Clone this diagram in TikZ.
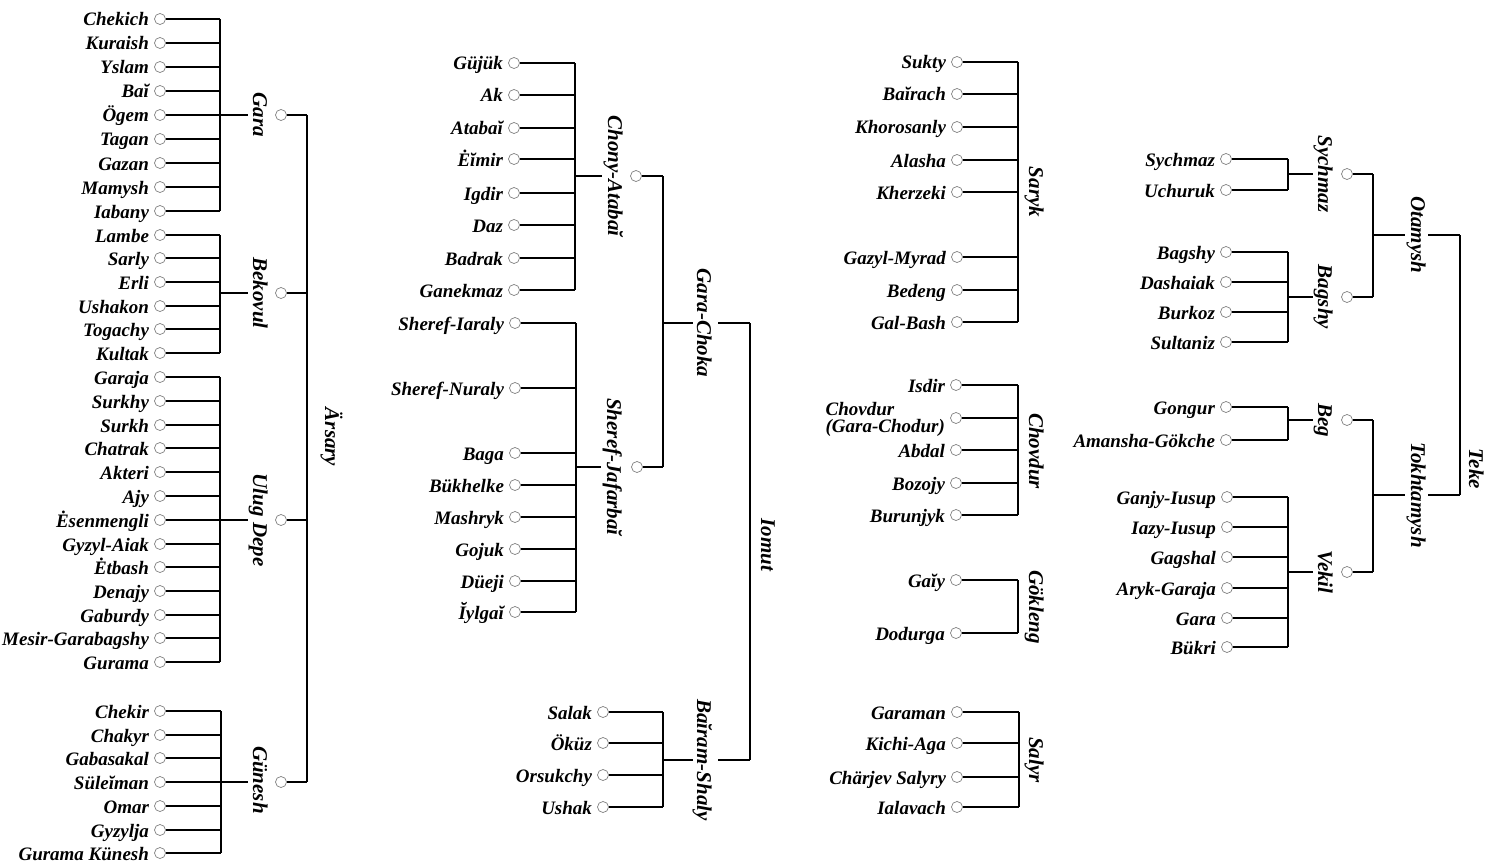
\documentclass[tikz,border=0pt]{standalone}
\usepackage{fontspec}
\setmainfont{Liberation Serif}
\newcommand\leaffont{\fontsize{19}{17}\selectfont\bfseries\itshape}
\newcommand\grpfont{\fontsize{21}{22}\selectfont\bfseries\itshape}
% one row of leaves: prefix, circle x, bar coordinate, list name/y
\newcommand\leafrow[4]{%
  \foreach \nm/\yy [count=\k] in {#4}{%
    \node[dot] (#1\k) at (#2,\yy) {};
    \node[leafname] (#1n\k) at ([xshift=-5pt,yshift=-7pt]#1\k.west) {\nm};
    \draw[link] (#1\k.east) -- (#1\k -| #3);
  }}
\begin{document}
\begin{tikzpicture}[x=1pt,y=-1pt,
  link/.style={line width=1.5pt},
  dot/.style={circle, draw=black!50, line width=0.7pt, inner sep=0pt, minimum size=11pt, fill=white},
  leafname/.style={anchor=base east, inner sep=0pt, font=\leaffont},
  grouplabel/.style={rotate=-90, anchor=base, inner sep=0pt, font=\grpfont}]
\fill[white] (0,0) rectangle (1496,864);
\useasboundingbox (0,0) rectangle (1496,864);

% ---------------- Ärsary ----------------
\coordinate (garaBar) at (220,115);
\coordinate (bekBar) at (220,293);
\coordinate (ulugBar) at (220,520);
\coordinate (gunBar) at (221,782);
\coordinate (arsBar) at (307,449);

\leafrow{gara}{160}{garaBar}{Chekich/19, Kuraish/43, Yslam/67, Baĭ/91, Ögem/115, Tagan/139, Gazan/163, Mamysh/187, Iabany/211}
\draw[link] (gara1 -| garaBar) -- (gara9 -| garaBar);
\node[grouplabel] (garaL) at (253,115) {Gara};
\node[dot] (garaC) at (281,115) {};
\draw[link] (garaBar) -- ([xshift=-5pt]garaL.base);
\draw[link] (garaC.east) -- (garaC -| arsBar);

\leafrow{bek}{160}{bekBar}{Lambe/235, Sarly/258, Erli/282, Ushakon/306, Togachy/329, Kultak/353}
\draw[link] (bek1 -| bekBar) -- (bek6 -| bekBar);
\node[grouplabel] (bekL) at (253,293) {Bekovul};
\node[dot] (bekC) at (281,293) {};
\draw[link] (bekBar) -- ([xshift=-5pt]bekL.base);
\draw[link] (bekC.east) -- (bekC -| arsBar);

\leafrow{ulug}{160}{ulugBar}{Garaja/377, Surkhy/401, Surkh/425, Chatrak/448, Akteri/472, Ajy/496, Ėsenmengli/520, Gyzyl-Aiak/544, Ėtbash/567, Denajy/591, Gaburdy/615, Mesir-Garabagshy/638, Gurama/662}
\draw[link] (ulug1 -| ulugBar) -- (ulug13 -| ulugBar);
\node[grouplabel] (ulugL) at (253,520) {Ulug Depe};
\node[dot] (ulugC) at (281,520) {};
\draw[link] (ulugBar) -- ([xshift=-5pt]ulugL.base);
\draw[link] (ulugC.east) -- (ulugC -| arsBar);

\leafrow{gun}{160}{gunBar}{Chekir/711, Chakyr/735, Gabasakal/758, Süleĭman/782, Omar/806, Gyzylja/830, Gurama Künesh/853}
\draw[link] (gun1 -| gunBar) -- (gun7 -| gunBar);
\node[grouplabel] (gunL) at (253,780) {Günesh};
\node[dot] (gunC) at (281,782) {};
\draw[link] (gunBar) -- ([xshift=-5pt]gunL.base |- gunBar);
\draw[link] (gunC.east) -- (gunC -| arsBar);

\draw[link] (garaC -| arsBar) -- (gunC -| arsBar);
\node[grouplabel] (arsL) at (325,437) {Ärsary};

% ---------------- Iomut ----------------
\coordinate (chonyBar) at (575,176);
\coordinate (sherBar) at (576,467);
\coordinate (gcBar) at (663,323);
\coordinate (bsBar) at (663,760);
\coordinate (iomBar) at (750,540);

\leafrow{chony}{514}{chonyBar}{Güjük/63, Ak/95, Atabaĭ/128, Ėĭmir/159, Igdir/193, Daz/225, Badrak/258, Ganekmaz/290}
\draw[link] (chony1 -| chonyBar) -- (chony8 -| chonyBar);
\node[grouplabel] (chonyL) at (608,176) {Chony-Atabaĭ};
\node[dot] (chonyC) at (636,176) {};
\draw[link] (chonyBar) -- ([xshift=-6pt]chonyL.base);
\draw[link] (chonyC.east) -- (chonyC -| gcBar);

\leafrow{sher}{515}{sherBar}{Sheref-Iaraly/323, Sheref-Nuraly/388, Baga/453, Bükhelke/485, Mashryk/517, Gojuk/549, Düeji/581, Ĭylgaĭ/612}
\draw[link] (sher1 -| sherBar) -- (sher8 -| sherBar);
\node[grouplabel] (sherL) at (607,467) {Sheref-Jafarbaĭ};
\node[dot] (sherC) at (637,467) {};
\draw[link] (sherBar) -- ([xshift=-6pt]sherL.base);
\draw[link] (sherC.east) -- (sherC -| gcBar);

\draw[link] (chonyC -| gcBar) -- (sherC -| gcBar);
\node[grouplabel] (gcL) at (697,323) {Gara-Choka};
\draw[link] (gcBar) -- ([xshift=-4pt]gcL.base);
\draw[link] ([xshift=21pt]gcL.base) -- (gcL -| iomBar);

\leafrow{bs}{603}{bsBar}{Salak/712, Öküz/743, Orsukchy/775, Ushak/807}
\draw[link] (bs1 -| bsBar) -- (bs4 -| bsBar);
\node[grouplabel] (bsL) at (697,760) {Baĭram-Shaly};
\draw[link] (bsBar) -- ([xshift=-4pt]bsL.base);
\draw[link] ([xshift=21pt]bsL.base) -- (bsL -| iomBar);

\draw[link] (gcL -| iomBar) -- (bsL -| iomBar);
\node[grouplabel] (iomL) at (761,545) {Iomut};

% ---------------- Saryk, Chovdur, Gökleng, Salyr ----------------
\coordinate (sarBar) at (1018,190);
\coordinate (choBar) at (1018,450);
\coordinate (gokBar) at (1018,607);
\coordinate (salBar) at (1019,760);

\leafrow{sar}{957}{sarBar}{Sukty/62, Baĭrach/94, Khorosanly/127, Alasha/160, Kherzeki/192, Gazyl-Myrad/257, Bedeng/290, Gal-Bash/322}
\draw[link] (sar1 -| sarBar) -- (sar8 -| sarBar);
\node[grouplabel] (sarL) at (1029,192) {Saryk};

\leafrow{cho}{956}{choBar}{Isdir/385}
\node[dot] (chox) at (956,418) {};
\node[anchor=east, align=left, inner sep=0pt, font=\leaffont] (choxn) at ([xshift=-5pt,yshift=-1pt]chox.west) {Chovdur\\(Gara-Chodur)};
\draw[link] (chox.east) -- (chox -| choBar);
\leafrow{chob}{956}{choBar}{Abdal/450, Bozojy/483, Burunjyk/515}
\draw[link] (cho1 -| choBar) -- (chob3 -| choBar);
\node[grouplabel] (choL) at (1029,451) {Chovdur};

\leafrow{gok}{956}{gokBar}{Gaĭy/580, Dodurga/633}
\draw[link] (gok1 -| gokBar) -- (gok2 -| gokBar);
\node[grouplabel] (gokL) at (1029,607) {Gökleng};

\leafrow{sal}{957}{salBar}{Garaman/712, Kichi-Aga/743, Chärjev Salyry/777, Ialavach/807}
\draw[link] (sal1 -| salBar) -- (sal4 -| salBar);
\node[grouplabel] (salL) at (1029,760) {Salyr};

% ---------------- Teke ----------------
\coordinate (sychBar) at (1288,174);
\coordinate (bagBar) at (1288,297);
\coordinate (begBar) at (1288,420);
\coordinate (vekBar) at (1288,572);
\coordinate (otaBar) at (1373,235);
\coordinate (tokBar) at (1373,495);
\coordinate (tekeBar) at (1460,365);

\leafrow{sych}{1226}{sychBar}{Sychmaz/159, Uchuruk/190}
\draw[link] (sych1 -| sychBar) -- (sych2 -| sychBar);
\node[grouplabel] (sychL) at (1318,174) {Sychmaz};
\node[dot] (sychC) at (1347,174) {};
\draw[link] (sychBar) -- ([xshift=-5pt]sychL.base);
\draw[link] (sychC.east) -- (sychC -| otaBar);

\leafrow{bag}{1226}{bagBar}{Bagshy/252, Dashaiak/282, Burkoz/312, Sultaniz/342}
\draw[link] (bag1 -| bagBar) -- (bag4 -| bagBar);
\node[grouplabel] (bagL) at (1318,297) {Bagshy};
\node[dot] (bagC) at (1347,297) {};
\draw[link] (bagBar) -- ([xshift=-5pt]bagL.base);
\draw[link] (bagC.east) -- (bagC -| otaBar);

\draw[link] (sychC -| otaBar) -- (bagC -| otaBar);
\node[grouplabel] (otaL) at (1411,235) {Otamysh};
\draw[link] (otaBar) -- ([xshift=-6pt]otaL.base);
\draw[link] ([xshift=17pt]otaL.base) -- (otaL -| tekeBar);

\leafrow{beg}{1226}{begBar}{Gongur/407, Amansha-Gökche/440}
\draw[link] (beg1 -| begBar) -- (beg2 -| begBar);
\node[grouplabel] (begL) at (1318,420) {Beg};
\node[dot] (begC) at (1347,420) {};
\draw[link] (begBar) -- ([xshift=-5pt]begL.base);
\draw[link] (begC.east) -- (begC -| tokBar);

\leafrow{vek}{1227}{vekBar}{Ganjy-Iusup/497, Iazy-Iusup/527, Gagshal/557, Aryk-Garaja/588, Gara/618, Bükri/647}
\draw[link] (vek1 -| vekBar) -- (vek6 -| vekBar);
\node[grouplabel] (vekL) at (1318,572) {Vekil};
\node[dot] (vekC) at (1347,572) {};
\draw[link] (vekBar) -- ([xshift=-5pt]vekL.base);
\draw[link] (vekC.east) -- (vekC -| tokBar);

\draw[link] (begC -| tokBar) -- (vekC -| tokBar);
\node[grouplabel] (tokL) at (1411,495) {Tokhtamysh};
\draw[link] (tokBar) -- ([xshift=-6pt]tokL.base);
\draw[link] ([xshift=17pt]tokL.base) -- (tokL -| tekeBar);

\draw[link] (otaL -| tekeBar) -- (tokL -| tekeBar);
\node[grouplabel] (tekeL) at (1469,469) {Teke};
\end{tikzpicture}
\end{document}
